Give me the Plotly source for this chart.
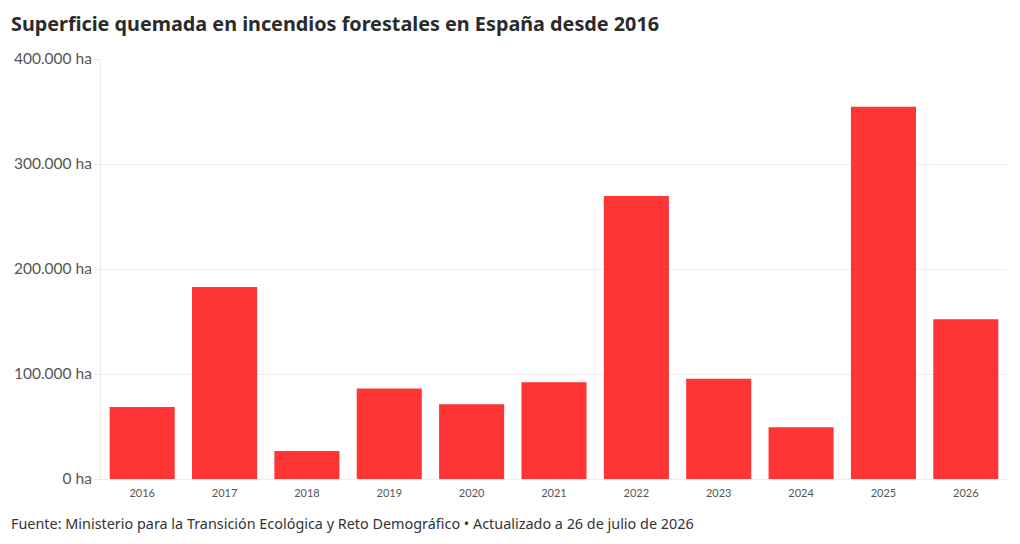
import plotly.graph_objects as go

years = ["2016", "2017", "2018", "2019", "2020", "2021", "2022", "2023", "2024", "2025", "2026"]
hectares = [68600, 182900, 26700, 86300, 71100, 92100, 269500, 95500, 49200, 354600, 152100]
y_ticks = [0, 100000, 200000, 300000, 400000]
y_tick_labels = ["0 ha", "100.000 ha", "200.000 ha", "300.000 ha", "400.000 ha"]

title = "Superficie quemada en incendios forestales en España desde 2016"
source = "Fuente: Ministerio para la Transición Ecológica y Reto Demográfico • Actualizado a 26 de julio de 2026"

fig = go.Figure(go.Bar(
    x=years, y=hectares,
    marker=dict(color="#FF2F2F", line=dict(width=0)),
    opacity=0.97,
    hovertemplate="%{x}: %{y:,.0f} ha<extra></extra>",
))

fig.update_layout(
    width=1020, height=544,
    margin=dict(l=101, r=13, t=59, b=65),
    paper_bgcolor="white", plot_bgcolor="white",
    bargap=0.21,
    showlegend=False,
    font=dict(family="Lato, 'Noto Sans', sans-serif", color="#444"),
    xaxis=dict(
        type="category",
        tickfont=dict(size=11, color="#555", family="Lato, sans-serif"),
        showgrid=False, showline=True, linecolor="#ececec", linewidth=1,
        ticks="outside", ticklen=4, tickcolor="rgba(0,0,0,0)",
    ),
    yaxis=dict(
        range=[0, 400000],
        tickvals=y_ticks, ticktext=y_tick_labels,
        tickfont=dict(size=15.5, color="#555", family="Lato, sans-serif"),
        showgrid=True, gridcolor="#eeeeee", gridwidth=1,
        showline=True, linecolor="#ececec", linewidth=1,
        ticks="outside", ticklen=5, tickcolor="#e6e6e6",
        zeroline=False,
    ),
    annotations=[
        dict(text="<b>" + title + "</b>", xref="paper", yref="paper",
             x=0, y=1, xanchor="left", yanchor="bottom",
             xshift=-92, yshift=20,
             showarrow=False,
             font=dict(size=19.8, color="#2b2b2b", family="'Noto Sans', Lato, sans-serif")),
        dict(text=source, xref="paper", yref="paper",
             x=0, y=0, xanchor="left", yanchor="top",
             xshift=-92, yshift=-33,
             showarrow=False,
             font=dict(size=14.4, color="#333", family="'Noto Sans', Lato, sans-serif")),
    ],
)

fig.write_html("out.html")
